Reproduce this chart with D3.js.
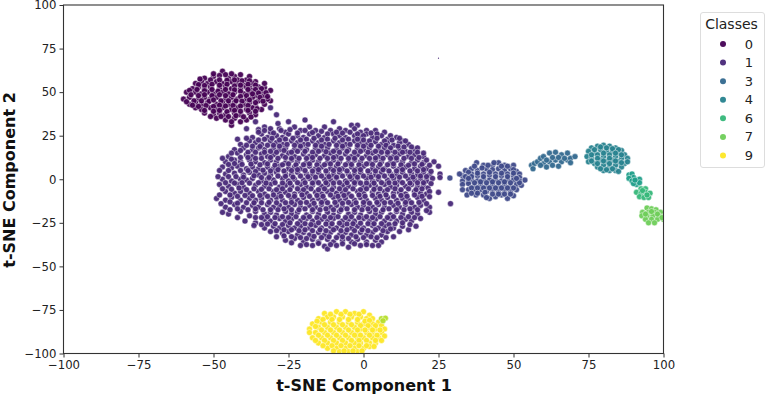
<!DOCTYPE html>
<html>
<head>
<meta charset="utf-8">
<script src="https://cdn.jsdelivr.net/npm/d3@7"></script>
<style>
  html, body { margin: 0; padding: 0; background: #fff; }
  svg { display: block; font-family: "DejaVu Sans", sans-serif; }
</style>
</head>
<body>
<svg id="chart" width="767" height="396"></svg>
<script>
// the legend only lists some of the classes, the plot has all ten
const legendClasses = [0, 1, 3, 4, 6, 7, 9]
const xTicks = [-100, -75, -50, -25, 0, 25, 50, 75, 100]
const yTicks = [-100, -75, -50, -25, 0, 25, 50, 75, 100]

// points, one [x, y] per dot
const class0 = [
  [-47,62],[-41,60],[-53,58],[-50,59],[-45,58],[-43,59],[-39,57],[-36,56],[-33,52.5],
  [-56,55],[-54,56],[-52,55],[-49,56],[-47,55],[-44,56],[-42,55],[-40,54],[-37,55],[-35,53],[-38,52.5],
  [-57,52],[-55,53],[-53,52],[-51,53],[-48,52],[-46,53],[-44,52],[-41,52],[-39,53],[-37,51],[-34,50],[-31,51],
  [-59,50],[-56,50],[-54,49],[-52,50],[-50,49],[-47,50],[-45,49],[-43,50],[-40,49],[-38,50],[-36,48],[-33,48],[-31,45],
  [-60,46],[-58,47],[-55,46],[-53,47],[-51,46],[-49,47],[-46,46],[-44,47],[-42,46],[-39,46],[-37,47],[-35,45],[-32,46],
  [-58,43],[-56,44],[-54,43],[-52,44],[-49,43],[-47,44],[-45,43],[-43,44],[-40,43],[-38,44],[-36,42],[-33,43],
  [-56,41],[-54,40],[-51,41],[-49,40],[-47,41],[-44,40],[-42,41],[-39,40],[-37,41],[-34,40],
  [-53,38],[-50,37],[-48,38],[-46,37],[-43,38],[-41,37],[-38,38],[-36,37],
  [-49,35],[-46,34],[-43,35],[-41,33],[-39,34],[-44,31],
  [-50,60.5],[-48,59.5],[-46,60],[-44,60.5],[-42,57],[-38,59],
  [-54.5,57.5],[-51,57],[-48,57],[-45.5,56.8],[-43,57],[-40.5,56.5],[-38,56.5],[-36,54],[-33,55],
  [-55,54.3],[-53,53.8],[-50.5,54.5],[-48,54],[-45.5,54.5],[-43,53.5],[-41,54],[-38.5,54.5],[-36,51.5],[-34,52],
  [-58,51],[-55.5,51.5],[-53,50.8],[-50.5,51.5],[-48.5,50.5],[-46,51.5],[-43,51.3],[-41,50.5],[-38.5,51.5],[-35,49.5],[-32.5,49.7],
  [-57.5,48.5],[-55,48],[-53,48.5],[-50.5,48],[-48,48.5],[-46,48],[-43.5,48.5],[-41,47.5],[-39,48],[-37,49],[-34.5,47],[-32,47.5],
  [-59,44.5],[-56.5,45],[-54,45],[-51.5,44.7],[-50,45.5],[-47.5,45],[-45,45],[-42.5,45],[-40.5,44.8],[-38,45.5],[-36,44],[-33.5,44.8],
  [-57,42.5],[-55,41.8],[-52.5,42.3],[-50,41.8],[-48,42.5],[-46,42],[-43.5,42.3],[-41,42],[-38.5,42.3],[-35.5,40.5],
  [-53,39.5],[-50,39],[-48,39.5],[-45.5,38.8],[-43,39.5],[-41,39],[-38.5,39.5],[-36,39],
  [-51,36],[-47.5,36],[-45,36],[-42.5,36.5],[-40,35.8],[-37.5,35.7],[-44,33]
]
const class1 = [
  [-25,33],[-19.5,34],[-10,33],[-4,31],[-2,31],[4,28],
  [-31,27],[-28,29],[-26,27],[-23,30],[-21,28],[-18,30],[-16,28],[-13,30],[-11,28],[-8,29],[-6,28],[-3,29],[-1,27],[1,28],[7,27],
  [-37,24],[-34,26],[-32,24],[-29,25],[-27,24],[-25,26],[-22,25],[-20,24],[-18,26],[-15,25],[-13,24],[-10,26],[-8,25],[-6,24],[-3,25],[-1,24],[1,26],[3,24],[6,25],[8,23],[11,24],[13,22],
  [-41,20],[-38,22],[-36,21],[-34,20],[-31,22],[-29,21],[-27,20],[-24,22],[-22,21],[-20,20],[-17,22],[-15,21],[-13,20],[-10,22],[-8,21],[-6,20],[-3,22],[-1,21],[1,20],[4,21.5],[6,20],[8,21],[10,19.5],[12,21],[15,20],
  [-43,17],[-40,18],[-37,17],[-35,18],[-33,17],[-30,18],[-28,17],[-26,18],[-23,17],[-21,18],[-19,17],[-16,18],[-14,17],[-12,18],[-9,17],[-7,18],[-5,17],[-2,18],[0,17],[2,18],[5,17],[7,18],[9,16.5],[12,17.5],[14,16],[17,17],
  [-45,13],[-42,15],[-39,14],[-37,13],[-34,14.5],[-32,13],[-30,14],[-27,13.5],[-25,15],[-23,13],[-20,14.5],[-18,13],[-16,14],[-13,13.5],[-11,15],[-9,13],[-6,14.5],[-4,13],[-2,14],[1,13.5],[3,15],[5,13],[8,14],[10,13],[12,14.5],[15,13],[17,14],[20,13],[23.5,10],
  [-46,10],[-43,11],[-41,10],[-38,11],[-36,10],[-33,9.5],[-31,11],[-29,10],[-26,9.5],[-24,11],[-22,10],[-19,9.5],[-17,11],[-15,10],[-12,9.5],[-10,11],[-8,10],[-5,9.5],[-3,11],[-1,10],[2,9.5],[4,11],[6,10],[9,9.5],[11,11],[13,10],[16,9.5],[18,11],[20,9.5],
  [-47,7],[-44,6.5],[-42,7.5],[-39,6],[-37,7],[-35,6],[-32,7],[-30,6],[-28,7.5],[-25,6],[-23,7],[-21,6],[-18,7.5],[-16,6],[-14,7],[-11,6],[-9,7.5],[-7,6],[-4,7],[-2,6],[0,7.5],[3,6],[5,7],[7,6],[10,7.5],[12,6],[14,7],[17,6],[19,7.5],[21,6],
  [-46,3],[-43,3.5],[-40,2.5],[-38,4],[-35,2.5],[-33,3.5],[-31,2.5],[-29,4],[-26,3],[-24,2.5],[-22,4],[-19,3],[-17,2.5],[-15,4],[-12,3],[-10,2.5],[-8,4],[-5,3],[-3,2.5],[-1,4],[2,3],[4,2.5],[6,4],[9,3],[11,2.5],[13,4],[16,3],[18,2.5],[20,4],[22,2.5],
  [-47,0],[-44,-1],[-41,0],[-39,-0.5],[-37,0.5],[-34,-1],[-32,0],[-30,-0.5],[-27,0.5],[-25,-1],[-23,0],[-20,-0.5],[-18,0.5],[-16,-1],[-13,0],[-11,-0.5],[-9,0.5],[-6,-1],[-4,0],[-2,-0.5],[1,0.5],[3,-1],[5,0],[8,-0.5],[10,0.5],[12,-1],[15,0],[17,-0.5],[19,0.5],[21,-1],
  [-48,-3],[-45,-4],[-42,-3],[-40,-4.5],[-36,-3.5],[-33,-4],[-31,-3],[-28,-4.5],[-26,-3.5],[-24,-4],[-21,-3],[-19,-4.5],[-17,-3.5],[-14,-4],[-12,-3],[-10,-4.5],[-7,-3.5],[-5,-4],[-3,-3],[0,-4.5],[2,-3.5],[4,-4],[7,-3],[9,-4.5],[11,-3.5],[14,-4],[16,-3],[18,-4.5],[20,-3.5],[21.5,-5],
  [-46,-7],[-43,-8],[-41,-7],[-38,-8],[-35,-7],[-33,-8.5],[-30,-7],[-28,-8],[-26,-7.5],[-23,-8.5],[-21,-7],[-19,-8],[-16,-7.5],[-14,-8.5],[-12,-7],[-9,-8],[-7,-7.5],[-5,-8.5],[-2,-7],[0,-8],[3,-7.5],[5,-8.5],[7,-7],[10,-8],[12,-7.5],[14,-8.5],[17,-7],[19,-8],[21,-8.5],
  [-49,-11],[-46,-12],[-44,-10.5],[-41,-12],[-38,-11],[-36,-12],[-34,-11],[-31,-12],[-29,-10.5],[-27,-12],[-24,-11],[-22,-12],[-20,-10.5],[-17,-12],[-15,-11],[-13,-12],[-10,-10.5],[-8,-12],[-6,-11],[-3,-12],[-1,-10.5],[1,-12],[4,-11],[6,-12],[8,-10.5],[11,-12],[13,-11],[15,-12],[18,-10.5],[20,-12],
  [-46,-16],[-43,-14.5],[-40,-16],[-37,-15],[-35,-16],[-32,-14.5],[-30,-16],[-28,-15],[-25,-16],[-23,-14.5],[-21,-16],[-18,-15],[-16,-16],[-14,-14.5],[-11,-16],[-9,-15],[-7,-16],[-4,-14.5],[-2,-16],[0,-15],[3,-16],[5,-14.5],[7,-16],[10,-15],[12,-16],[14,-14.5],[17,-16],[19,-15],
  [-45,-20],[-41,-18.5],[-38,-21],[-36,-18.5],[-33,-20],[-31,-19],[-29,-20.5],[-26,-18.5],[-24,-20],[-22,-19],[-19,-20.5],[-17,-18.5],[-15,-20],[-12,-19],[-10,-20.5],[-8,-18.5],[-5,-20],[-3,-19],[-1,-20.5],[2,-18.5],[4,-20],[6,-19],[9,-20.5],[11,-18.5],[13,-20],[16,-19],[18,-20],
  [-36,-25],[-33,-23],[-31,-24],[-28,-22.5],[-26,-24],[-24,-23],[-21,-24],[-19,-22.5],[-17,-24],[-14,-23],[-12,-24],[-10,-22.5],[-7,-24],[-5,-23],[-3,-24],[0,-22.5],[2,-24],[4,-23],[7,-24],[9,-22.5],[11,-24],[14,-23],[16,-24],
  [-33,-28],[-30,-27],[-28,-28],[-25,-26.5],[-23,-28],[-21,-27],[-18,-28],[-16,-26.5],[-14,-28],[-11,-27],[-9,-28],[-7,-26.5],[-4,-28],[-2,-27],[0,-28],[3,-26.5],[5,-28],[7,-27],[10,-28],[13,-27],[15,-29],
  [-27,-31],[-25,-30],[-22,-32],[-20,-30.5],[-18,-32],[-15,-30.5],[-13,-32],[-11,-30.5],[-8,-32],[-6,-30.5],[-4,-32],[-1,-30.5],[1,-32],[3,-30.5],[6,-32],[8,-30],[10,-33],
  [-26,-35],[-23,-34],[-20,-36],[-17,-34.5],[-15,-36],[-12,-34.5],[-10,-36],[-7,-35],[-4,-36],[-2,-34.5],[1,-36],[4,-35],[6,-36],
  [-21,-38],[-17,-38],[-13,-38.5],[-9,-38],[-5,-39],[-1,-38],[3,-38],[-12,-40],
  [25,7.5],[25.5,3],[25.5,1],[25,-7.5],[29,-14],[22,-16],[22,-19],
  [-39,29],[-36,33],[-33,30],[-31,29],[-31,41],[-29,37],[-28.5,32],[-35,28.5],
  [-35,27],[-33,28],[-30,26.5],[-27.5,28],[-24.5,28.5],[-22,26.5],[-19.5,28],[-17,26.8],[-14,27.5],[-12,26],[-9,27],[-7,26.5],[-4.5,27],[-2,26],[0,25],[2.5,26.5],[4.5,26],[9,25],[12,23.5],
  [-39,23.5],[-35,22.5],[-33,23],[-30.5,23.5],[-28,22.5],[-26,23],[-23.5,23.5],[-21,22.5],[-19,23],[-16.5,23.5],[-14,22.5],[-12,23],[-9.5,23.5],[-7,22.5],[-5,23],[-2,23],[0,22.5],[2,22],[4.5,23.5],[7,22],[9.5,22.5],[14,22],
  [-42,23],[-39,19.5],[-37,19],[-34.5,18.8],[-32,19.5],[-30,19.5],[-28,19],[-25.5,20],[-23,19.5],[-21,19],[-18.5,20],[-16,19.5],[-14,19],[-11.5,20],[-9,19.5],[-7,19],[-4.5,20],[-2,19.5],[0,19],[2.5,19.5],[5,19],[7.5,19.5],[9,18],[11.5,19],[13.5,18.5],[16,18.5],[18,18],
  [-44,15],[-41,16.5],[-38.5,15.5],[-36,15.5],[-33,15.5],[-31,16],[-29,15.5],[-26.5,16.5],[-24,15.5],[-22,16],[-19.5,16],[-17,15.5],[-15,16],[-12.5,15.8],[-10,16],[-8,15.5],[-5.5,16],[-3,15.5],[-1,16],[1.5,15.5],[4,16],[6,15.5],[8,15.5],[10.5,15.5],[13,15.5],[15.5,15.5],[18,15.5],[20,15],
  [-47,12],[-44,11.5],[-41,12.5],[-38.5,12.5],[-36,12],[-34,12],[-31,12.5],[-28.5,12],[-26,12.5],[-24,12],[-21.5,12],[-19,12],[-17,12.5],[-14.5,12],[-12,12],[-10,12.5],[-7.5,12],[-5,12],[-3,12],[-0.5,12],[2,12],[4,12.2],[6.5,12],[9,12],[11,12.2],[13.5,12],[16,12],[18.5,12.5],[21,11],
  [-45,8.5],[-43,9],[-40.5,8.5],[-37.5,8.7],[-34.5,8.3],[-32,8.8],[-29.5,8],[-27,8.3],[-25,8.8],[-22.5,8.3],[-20,8.3],[-18,8.8],[-15.5,8.3],[-13,8.3],[-11,8.8],[-8.5,8.8],[-6,8.3],[-4,8.5],[-1.5,8.3],[1,8.8],[3,8.5],[5.5,8.5],[8,8.3],[10,8.8],[12.5,8.3],[15,8],[17,8.8],[19.5,8.5],[22,8],
  [-48,5],[-45,5],[-41,5],[-38.5,5],[-36,4.5],[-33.5,5.2],[-31,4.8],[-28.5,5.5],[-26.5,4.8],[-24,5],[-22,5.5],[-19.5,5],[-17,4.7],[-15,5.5],[-12.5,4.8],[-10,5],[-8,5.5],[-5.5,4.8],[-3,5],[-1,5.5],[1.5,4.8],[4,4.8],[6.5,5.5],[8.5,4.8],[11,4.8],[13,5.5],[15.5,4.8],[18,4.8],[20,5.5],[22.5,4.5],
  [-48.5,1.5],[-45,1.5],[-42.5,1.5],[-40,1.2],[-36.5,2],[-34,1],[-31.5,1],[-28.5,1.8],[-26,1.7],[-23.5,1.2],[-21,1.8],[-18.5,1.5],[-16,1.2],[-14,1.8],[-11.5,1.5],[-9,1.2],[-7,1.8],[-4.5,1.5],[-2,1.2],[0,1.8],[2.5,1.2],[5,1.5],[7,1.8],[9.5,1.8],[12,1.2],[14,1.8],[16.5,1.2],[19,1.8],[21,1.5],[23,0.5],
  [-46,-2],[-43,-2.2],[-40.5,-2],[-38,-2.2],[-35,-2],[-32.5,-2.2],[-29.5,-2],[-27,-2.2],[-24.5,-2.2],[-22,-2],[-19.5,-2],[-17,-2.2],[-15,-2],[-12.5,-2],[-10,-2.2],[-8,-2],[-5.5,-2],[-3,-2],[-1,-2.2],[1,-2.2],[3.5,-2.2],[6,-2],[8.5,-2],[10.5,-2.2],[13,-2],[15.5,-2.2],[18,-2],[20,-2],[22.5,-2.5],
  [-47,-5.5],[-44,-5.8],[-41.5,-5],[-39,-6],[-36.5,-5.5],[-34,-5.8],[-31.5,-5.5],[-29,-6],[-27,-5.5],[-24.5,-6],[-22,-5.5],[-20,-6],[-17.5,-5.5],[-15,-6],[-13,-5.5],[-10.5,-6],[-8,-5.5],[-6,-6],[-3.5,-5.5],[-1,-6],[1,-5.5],[3.5,-5.8],[5.5,-5.5],[8,-6],[10.5,-5.5],[12.5,-6],[15,-5.5],[17.5,-6],[19.5,-5.5],[22,-7],
  [-48,-9],[-44.5,-9],[-42,-9.8],[-39.5,-9.3],[-37,-9.5],[-34.5,-9.3],[-32,-9.8],[-30,-9],[-27.5,-9.8],[-25,-9.3],[-23,-9.8],[-20.5,-9],[-18,-9.8],[-15.5,-9.3],[-13.5,-9.8],[-11,-9],[-8.5,-9.8],[-6.5,-9.3],[-4,-9.8],[-1.5,-9],[0.5,-9.8],[3,-9.3],[5.5,-9.8],[7.5,-9],[10,-9.8],[12.5,-9.3],[14.5,-9.8],[17,-9],[19.5,-9.8],[22,-10],
  [-47.5,-14],[-44.5,-13],[-42,-13.8],[-39,-13.5],[-36.5,-13.5],[-34,-13.5],[-31.5,-13.3],[-29,-13.5],[-26,-13.5],[-24,-13.3],[-21,-13.5],[-19,-13.3],[-16.5,-13.8],[-14,-13.3],[-12,-13.5],[-9.5,-13.3],[-7,-13.8],[-5,-13.3],[-2.5,-13.5],[0,-13.3],[2,-13.8],[4.5,-13.3],[7,-13.5],[9,-13.3],[11.5,-13.8],[14,-13.3],[16,-13.5],[18.5,-13.3],[21,-14],
  [-47,-19],[-44.5,-17.5],[-42,-17],[-38.5,-17.5],[-36,-17],[-33.5,-17.5],[-31,-17.5],[-28.5,-17.5],[-26.5,-17],[-24,-17.5],[-21.5,-17.5],[-19.5,-17],[-17,-17.5],[-14.5,-17.5],[-12.5,-17],[-10,-17.5],[-7.5,-17.5],[-5.5,-17],[-3,-17.5],[-0.5,-17.5],[1.5,-17],[4,-17.5],[6.5,-17.5],[8.5,-17],[11,-17.5],[13.5,-17.5],[15.5,-17],[18,-17.5],[21,-18],
  [-42,-22],[-39.5,-24],[-36,-22],[-34,-22],[-32,-21.5],[-29.5,-22],[-27,-21.5],[-25,-22],[-22.5,-21.5],[-20,-22],[-18,-21.5],[-15.5,-22],[-13,-21.5],[-11,-22],[-8.5,-21.5],[-6,-22],[-4,-21.5],[-1.5,-22],[1,-21.5],[3,-22],[5.5,-21.5],[8,-22],[10,-21.5],[12.5,-22],[15,-21.5],[17,-22],[19,-22.5],
  [-36.5,-26.5],[-34,-26],[-32,-25.7],[-29.5,-25.5],[-27,-26],[-24.5,-25],[-22,-25.5],[-19.5,-25.5],[-17.5,-26],[-15,-25],[-12.5,-25.7],[-10.5,-25.5],[-8,-25.2],[-5.5,-25.7],[-3.5,-25.5],[-1,-25.2],[1.5,-25.5],[3.5,-25.5],[6,-25.5],[8.5,-26],[10.5,-25.5],[13,-25],[15.5,-26],[17.5,-27],
  [-31,-30],[-29,-29.5],[-26.5,-29],[-24,-29],[-21.5,-29.5],[-19.5,-29],[-17,-29.5],[-14.5,-29],[-12.5,-29.5],[-10,-29],[-7.5,-29.5],[-5.5,-29],[-3,-29.5],[-0.5,-29],[1.5,-29.5],[4,-29],[6.5,-29.5],[9,-28.5],[12,-30],
  [-29,-33],[-26.5,-32.5],[-24,-33],[-21,-33.5],[-19,-34],[-16.5,-32.8],[-14,-33.5],[-11.5,-33],[-9,-33.5],[-7,-33],[-5,-34],[-2.5,-33],[0,-33.5],[2.5,-33],[4.5,-33.5],[7.5,-33.5],
  [-24,-36.5],[-19,-37.5],[-15,-36.8],[-11,-37.5],[-7,-37],[-3,-37],[1,-37.5],[5,-38]
]
const class2 = [
  [28.8,0.7],[33,2],[33,-1],[35,-1],
  [37.7,9.5],[40,8],[45,9.4],[43,8],[47,8],[50,8],
  [34,5],[36,6],[38,5],[41,6],[43,5.5],[45,6],[47,5],[49,6],[51,4.5],[52,3],
  [32,3],[36,3],[38,2],[40,3],[42,2.5],[44,3],[46,2],[48,3],[50,2],[52,1],[53.8,-0.5],
  [36,0],[38,-1],[40,0],[42,-0.5],[44,0],[46,-1],[48,0],[50,-0.5],[52,-1],
  [33,-3],[35,-2.5],[37,-4],[39,-3],[41,-4],[43,-3],[45,-4],[47,-3],[49,-4],[51,-3],[52.6,-3.5],
  [33,-6],[35,-6],[37,-7],[39,-6],[41,-7],[43,-6],[45,-7],[47,-6],[49,-7],[51,-6],
  [34.5,-9],[37.5,-9],[40,-9],[42,-11],[44,-10],[46,-9],[48,-11],[50,-9.5],
  [35,4],[37,7.5],[39.5,6.5],[41.5,8],[43.5,9.5],[46,7.5],[48,7.5],[50,5.5],[34,1.5],[36,1.5],[38,3.5],[40,1.5],[42,4],[44,1.5],[46,3.5],[48,1.5],[50,3.5],[52,-2],
  [35,0.5],[37,-2],[39,-1.5],[41,-2],[43,-1.5],[45,-2],[47,-1.5],[49,-2],[51,0.5],[36,-5],[38,-5],[40,-5],[42,-5],[44,-5],[46,-5],[48,-5],[50,-5],
  [36,-8],[38,-8],[40.5,-7.5],[43,-8.5],[45,-8.5],[47,-8.5],[49,-8.5],[41,-10.5]
]
const class3 = [
  [56,8],[57,9],[58,10],[60,9],[59,12],[62,15],[64,15.5],[66,14],[68,15],[62,10],[64,11],[66,10],[68,11],[60,13],[63,12.5],[65,12.5],[67,12],[69,12],[70.5,13],[69,9.5],[61,7],[63,8],[65,7.5],[61,11],[59,8],[56.5,6]
]
const class4 = [
  [78,19],[80,19.5],[82,19],[84,18],[76,18],[86,16.5],
  [75,16],[77,15],[79,17],[81,16],[83,16],[85,15],[87,14],
  [74.5,13],[76,12],[78,14],[80,13],[82,14],[84,13],[86,12],[88,12],
  [75,10],[77,9],[79,11],[81,10],[83,11],[85,10],[87,9],
  [78,7],[80,8],[82,7],[84,8],[86,7],[80,5],[82,5],[84,5],[85,4.5],
  [77,17],[79,18.5],[81,18],[83,17.5],[85,17],[76,14],[78,12],[80,15],[82,12],[84,15],[86,14],[88,10],[76,10.5],[78,9],[80,10.5],[82,9],[84,10.5],[86,9.5],[79,6],[81,5.5],[83,6]
]
const class5 = [
  [88.5,2.5],[89.5,3],[90,1],[88.5,0.5],[91,-1],[89.5,-1],[91,-3],[92,0],[90,-2.5],[92,-2],[90.5,-0.5]
]
const class6 = [
  [92.5,-5.5],[94,-5.5],[91,-7.5],[92.5,-8],[94,-7.5],[95.5,-8],[92,-10],[93.5,-10.5],[95,-10.5],[93,-6.5],[94.5,-9]
]
const class7 = [
  [94.5,-16.5],[96,-17],[97.5,-17.5],[93,-19],[95,-19],[97,-19],[99,-19],[92.8,-21],[94.5,-21],[96.5,-21],[98.5,-21],[100.5,-21],
  [94,-23],[96,-23],[98,-23],[100,-23],[95,-25],[97,-25],[96,-18.5],[98,-20],[94,-20],[99.5,-22]
]
const class8 = [
  [6,-80],[7.3,-79.7],[6.5,-81.2]
]
const class9 = [
  [-13,-77],[-9,-76],[-6,-76],[-3,-77],[0,-76],[2,-78],
  [-15,-80],[-12,-79],[-10,-79],[-7,-79],[-4,-79],[-1,-79],[1,-80],[3,-80],[5,-82],
  [-17,-83],[-14,-82],[-11,-82],[-8,-82],[-5,-82],[-2,-82],[0,-83],[3,-83],[6,-84],
  [-18,-86],[-15,-85],[-12,-85],[-9,-85],[-6,-85],[-3,-85],[-1,-86],[2,-85],[4,-86],[7,-86],
  [-18,-88],[-16,-88],[-13,-88],[-10,-88],[-7,-88],[-4,-88],[-2,-88],[1,-88],[3,-88],[6,-88],
  [-17,-91],[-14,-91],[-11,-91],[-8,-91],[-5,-91],[-2,-91],[0,-91],[3,-91],[5,-91],[7,-90],
  [-15,-94],[-12,-94],[-9,-94],[-6,-94],[-3,-94],[-1,-94],[2,-94],[4,-94],
  [-12,-97],[-9,-97],[-6,-97],[-3,-97],[0,-97],[2,-96],
  [-8,-99],[-5,-99],[-2,-99],
  [-11,-77.5],[-7.5,-77.5],[-4.5,-77.5],[-1.5,-77.5],[-13.5,-80.5],[-10.5,-80.5],[-8,-80.5],[-5,-80.5],[-2,-80.5],[0.5,-81.5],[2,-81],[-15.5,-81.5],
  [-16,-84.5],[-13,-83.5],[-10,-83.5],[-7,-83.5],[-4,-83.5],[-1,-84],[1.5,-84],[4,-84],[-14,-86.5],[-11,-86.5],[-8,-86.5],[-5,-86.5],[-2,-86.5],[0.5,-86.5],[3,-86.5],[5.5,-86.5],
  [-15,-89.5],[-12,-89.5],[-9,-89.5],[-6,-89.5],[-3,-89.5],[-1,-89.5],[2,-89.5],[4.5,-89.5],[-16,-92.5],[-13,-92.5],[-10,-92.5],[-7,-92.5],[-4,-92.5],[-1.5,-92.5],[1,-92.5],[4,-92.5],[6,-92.5],
  [-13.5,-95.5],[-10.5,-95.5],[-7.5,-95.5],[-4.5,-95.5],[-1.5,-95.5],[1,-95.5],[3.5,-96],[-10,-98.5],[-6.5,-98.5],[-3.5,-98.5],[-0.5,-98.5]
]
const strayMark = [[25,69.5]]

const pointGroups = [
  {label: 0, points: class0},
  {label: 1, points: class1},
  {label: 2, points: class2},
  {label: 3, points: class3},
  {label: 4, points: class4},
  {label: 5, points: class5},
  {label: 6, points: class6},
  {label: 7, points: class7},
  {label: 9, points: class9},
  {label: 8, points: class8}
]

var margin = {left: 63.5, right: 663.5, top: 5, bottom: 353.5}

var svg = d3.select("#chart")
var color = d3.scaleSequential(d3.interpolateViridis).domain([0, 9])

var x = d3.scaleLinear().domain([-100, 100]).range([margin.left, margin.right])
var y = d3.scaleLinear().domain([-100, 100]).range([margin.bottom, margin.top])

svg.append("clipPath")
  .attr("id", "plot-clip")
  .append("rect")
    .attr("x", margin.left)
    .attr("y", margin.top)
    .attr("width", margin.right - margin.left)
    .attr("height", margin.bottom - margin.top)

var plot = svg.append("g").attr("clip-path", "url(#plot-clip)")

pointGroups.forEach(function(group) {
  plot.selectAll(null)
    .data(group.points)
    .enter()
    .append("circle")
      .attr("cx", function(d) { return x(d[0]) })
      .attr("cy", function(d) { return y(d[1]) })
      .attr("r", 3)
      .attr("fill", color(group.label))
      .attr("fill-opacity", 0.95)
      .attr("stroke", "#fff")
      .attr("stroke-opacity", 0.65)
      .attr("stroke-width", 0.7)
})

plot.selectAll(null)
  .data(strayMark)
  .enter()
  .append("circle")
    .attr("cx", function(d) { return x(d[0]) })
    .attr("cy", function(d) { return y(d[1]) })
    .attr("r", 0.6)
    .attr("fill", color(1))

var xAxis = svg.append("g")
  .attr("transform", "translate(0," + margin.bottom + ")")
  .call(d3.axisBottom(x).tickValues(xTicks).tickFormat(d3.format("d")).tickSize(4).tickPadding(3))
var yAxis = svg.append("g")
  .attr("transform", "translate(" + margin.left + ",0)")
  .call(d3.axisLeft(y).tickValues(yTicks).tickFormat(d3.format("d")).tickSize(4).tickPadding(3))

svg.selectAll(".domain").remove()
svg.selectAll(".tick line").attr("stroke", "#333").attr("stroke-width", 1)
svg.selectAll(".tick text")
  .attr("fill", "#222")
  .style("font-family", '"DejaVu Sans", sans-serif')
  .style("font-size", "11.7px")

svg.append("rect")
  .attr("x", margin.left)
  .attr("y", margin.top)
  .attr("width", margin.right - margin.left)
  .attr("height", margin.bottom - margin.top)
  .attr("fill", "none")
  .attr("stroke", "#333")
  .attr("stroke-width", 1.1)

svg.append("text")
  .attr("x", 364)
  .attr("y", 391)
  .attr("text-anchor", "middle")
  .attr("font-size", 16)
  .attr("font-weight", "bold")
  .attr("fill", "#111")
  .text("t-SNE Component 1")

svg.append("text")
  .attr("transform", "translate(15,180) rotate(-90)")
  .attr("text-anchor", "middle")
  .attr("font-size", 16)
  .attr("font-weight", "bold")
  .attr("fill", "#111")
  .text("t-SNE Component 2")

// legend
var legend = svg.append("g")
legend.append("rect")
  .attr("x", 700.5)
  .attr("y", 12.5)
  .attr("width", 64)
  .attr("height", 155)
  .attr("rx", 2.5)
  .attr("fill", "#fff")
  .attr("stroke", "#ddd")
  .attr("stroke-width", 1)
legend.append("text")
  .attr("x", 731.5)
  .attr("y", 29)
  .attr("text-anchor", "middle")
  .attr("font-size", 14)
  .attr("fill", "#222")
  .text("Classes")

var legendY = d3.scalePoint().domain(legendClasses).range([44, 155.5])
var rows = legend.selectAll("g.row")
  .data(legendClasses)
  .enter()
  .append("g")
    .attr("class", "row")
    .attr("transform", function(d) { return "translate(0," + legendY(d) + ")" })
rows.append("circle")
  .attr("cx", 723)
  .attr("r", 3)
  .attr("fill", function(d) { return color(d) })
  .attr("fill-opacity", 0.95)
rows.append("text")
  .attr("x", 749)
  .attr("y", 4.5)
  .attr("text-anchor", "middle")
  .attr("font-size", 13)
  .attr("fill", "#222")
  .text(function(d) { return d })
</script>
</body>
</html>
